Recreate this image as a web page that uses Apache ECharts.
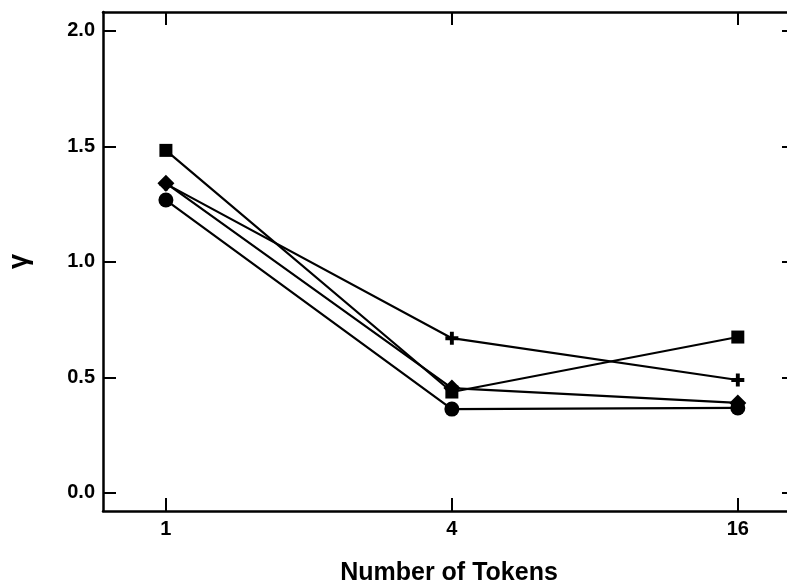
<!DOCTYPE html>
<html>
<head>
<meta charset="utf-8">
<script src="https://cdn.jsdelivr.net/npm/echarts@6/dist/echarts.min.js"></script>
<style>html,body{margin:0;padding:0;background:#fff}#c{width:787px;height:586px}</style>
</head>
<body>
<div id="c"></div>
<script>
// Data
const tokens = ['1', '4', '16'];
const squareVals = [1.483, 0.437, 0.675];
const diamondVals = [1.341, 0.454, 0.390];
const circleVals = [1.268, 0.363, 0.368];
const plusVals = [1.338, 0.670, 0.489];
const yTicks = [0, 0.5, 1.0, 1.5, 2.0];
const xLabel = 'Number of Tokens';
const yLabel = 'γ';

const tokenIdx = tokens.map((t, i) => i);
const pts = vals => vals.map((v, i) => [i, v]);

const FONT = 'Liberation Sans';
const plusPath = 'path://M35,0 L65,0 L65,35 L100,35 L100,65 L65,65 L65,100 L35,100 L35,65 L0,65 L0,35 L35,35 Z';

const lineStyle = { color: '#000', width: 2.2 };
const itemStyle = { color: '#000' };
const mk = (name, vals, symbol, size, z) => ({
  name, type: 'line', data: pts(vals), symbol, symbolSize: size,
  lineStyle, itemStyle, z, animation: false, showSymbol: true
});

const axisLine = { show: true, onZero: false, lineStyle: { color: '#000', width: 2.5 } };
const tick = { show: true, inside: true, length: 13, lineStyle: { color: '#000', width: 2 } };

const xMin = -0.22, xMax = 2.2, yMin = -0.078, yMax = 2.082;

const chart = echarts.init(document.getElementById('c'));
chart.setOption({
  animation: false,
  backgroundColor: '#fff',
  grid: { left: 103, right: -8, top: 12, bottom: 75, containLabel: false, outerBoundsMode: 'none' },
  xAxis: [{
    type: 'value', min: xMin, max: xMax, position: 'bottom',
    axisLine, splitLine: { show: false },
    axisTick: Object.assign({ customValues: tokenIdx }, tick),
    axisLabel: { customValues: tokenIdx, formatter: v => tokens[Math.round(v)], color: '#000',
      fontFamily: FONT, fontWeight: 'bold', fontSize: 20, margin: 8 },
    name: xLabel, nameLocation: 'middle', nameGap: 50,
    nameTextStyle: { color: '#000', fontFamily: FONT, fontWeight: 'bold', fontSize: 25 }
  }, {
    type: 'value', min: xMin, max: xMax, position: 'top',
    axisLine, splitLine: { show: false },
    axisTick: Object.assign({ customValues: tokenIdx }, tick),
    axisLabel: { show: false }
  }],
  yAxis: [{
    type: 'value', min: yMin, max: yMax, position: 'left',
    axisLine, splitLine: { show: false },
    axisTick: Object.assign({ customValues: yTicks }, tick),
    axisLabel: { customValues: yTicks, formatter: v => v.toFixed(1), color: '#000',
      fontFamily: FONT, fontWeight: 'bold', fontSize: 20, margin: 8 },
    name: yLabel, nameLocation: 'middle', nameGap: 70, nameRotate: 90,
    nameTextStyle: { color: '#000', fontFamily: FONT, fontWeight: 'bold', fontSize: 27 }
  }, {
    type: 'value', min: yMin, max: yMax, position: 'right',
    axisLine, splitLine: { show: false },
    axisTick: Object.assign({ customValues: yTicks }, tick),
    axisLabel: { show: false }
  }],
  series: [
    mk('plus', plusVals, plusPath, 13, 2),
    mk('square', squareVals, 'rect', 13, 3),
    mk('circle', circleVals, 'circle', 15, 4),
    mk('diamond', diamondVals, 'diamond', 17, 5)
  ]
});
</script>
</body>
</html>
